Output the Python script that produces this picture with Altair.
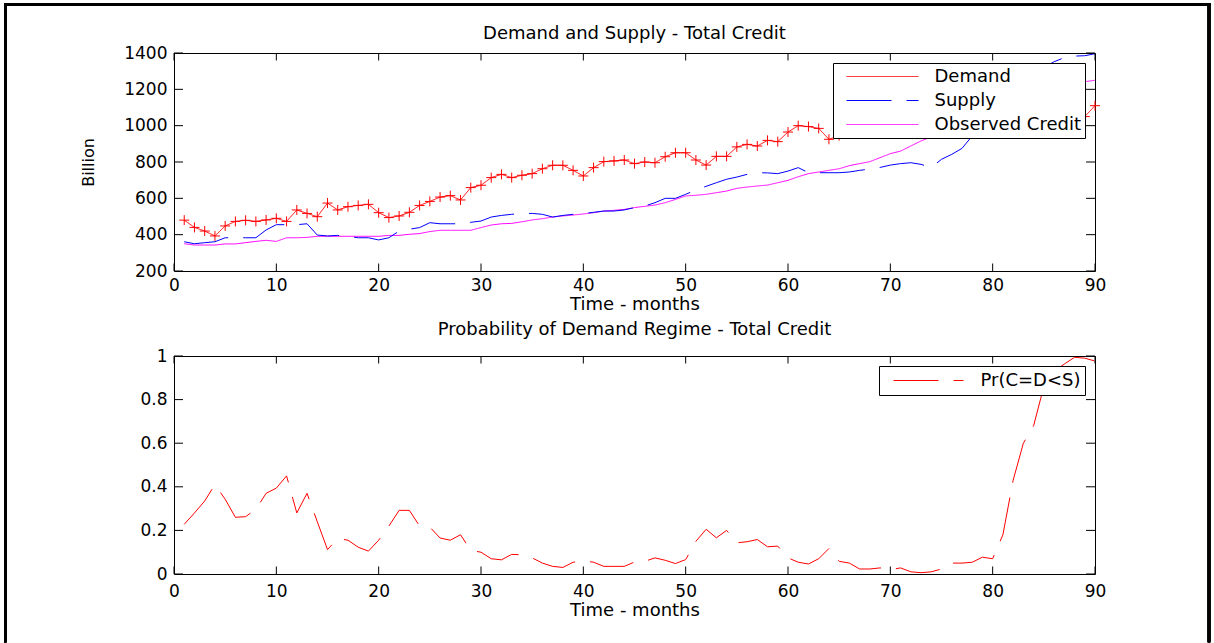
import altair as alt
import pandas as pd

# ---------------- data ----------------
months = list(range(1, 91))

demand = [480, 440, 420, 393, 448, 473, 479, 473, 481, 490,
          473, 536, 517, 499, 574, 536, 554, 561, 567, 521,
          494, 503, 523, 561, 583, 607, 615, 591, 659, 672,
          714, 732, 714, 727, 736, 763, 782, 782, 754, 723,
          769, 802, 806, 811, 791, 800, 796, 829, 851, 851,
          811, 783, 831, 831, 883, 897, 888, 919, 912, 965,
          1000, 995, 985, 925, 945, 960, 975, 985, 1000, 990,
          1010, 1025, 1020, 1005, 1030, 1045, 1060, 1050, 1070, 1085,
          1070, 1060, 1050, 1040, 1055, 1045, 1035, 1030, 1050, 1110]

supply = [361, 350, 356, 361, 383, 383, 383, 383, 426, 455,
          455, 455, 460, 398, 393, 396, 390, 383, 383, 371,
          383, 420, 430, 439, 466, 460, 460, 460, 468, 475,
          497, 506, 512, 517, 517, 512, 497, 506, 512, 516,
          523, 530, 530, 536, 549, 558, 576, 600, 600, 622,
          646, 666, 686, 705, 717, 732, 741, 740, 736, 750,
          769, 741, 741, 741, 741, 745, 754, 761, 770, 783,
          791, 796, 787, 769, 815, 842, 875, 943, 1000, 1080,
          1150, 1200, 1240, 1280, 1320, 1352, 1374, 1383, 1385, 1396]

observed = [350, 343, 343, 343, 349, 349, 356, 363, 369, 363,
            383, 383, 385, 391, 391, 391, 391, 391, 391, 391,
            396, 396, 402, 406, 417, 424, 424, 424, 424, 439,
            453, 460, 462, 471, 481, 488, 497, 503, 508, 514,
            521, 530, 534, 539, 549, 556, 563, 576, 594, 613,
            617, 622, 631, 640, 655, 662, 668, 673, 686, 699,
            719, 736, 745, 754, 763, 780, 791, 802, 824, 846,
            860, 888, 916, 938, 960, 985, 1010, 1035, 1060, 1085,
            1105, 1125, 1145, 1165, 1185, 1205, 1222, 1235, 1242, 1250]

prob = [0.228, 0.28, 0.335, 0.41, 0.343, 0.26, 0.263, 0.297, 0.37, 0.394,
        0.45, 0.28, 0.37, 0.24, 0.112, 0.163, 0.155, 0.123, 0.105, 0.155,
        0.22, 0.292, 0.292, 0.22, 0.215, 0.165, 0.155, 0.18, 0.108, 0.10,
        0.07, 0.065, 0.09, 0.088, 0.074, 0.05, 0.035, 0.03, 0.054, 0.06,
        0.054, 0.035, 0.035, 0.035, 0.055, 0.058, 0.074, 0.063, 0.048, 0.066,
        0.15, 0.205, 0.166, 0.2, 0.143, 0.148, 0.158, 0.125, 0.128, 0.074,
        0.054, 0.046, 0.07, 0.117, 0.058, 0.05, 0.023, 0.023, 0.028, 0.02,
        0.028, 0.01, 0.006, 0.01, 0.023, 0.05, 0.05, 0.054, 0.077, 0.07,
        0.18, 0.43, 0.6, 0.68, 0.86, 0.93, 0.963, 0.994, 0.99, 0.977]

series_names = ["Demand", "Supply", "Observed Credit"]
series_colors = ["#ff0000", "#0000ff", "#ff00ff"]
prob_name = "Pr(C=D<S)"

x_ticks = [0, 10, 20, 30, 40, 50, 60, 70, 80, 90]
y_ticks_top = [200, 400, 600, 800, 1000, 1200, 1400]
y_ticks_bottom = [0, 0.2, 0.4, 0.6, 0.8, 1]

top_title = "Demand and Supply - Total Credit"
bottom_title = "Probability of Demand Regime - Total Credit"
x_title = "Time - months"
y_title = "Billion"

# ---------------- layout constants ----------------
W, H = 921, 218
FONT = "DejaVu Sans"
FS_TICK = 17
FS_TEXT = 18
FS_YTITLE = 16
TICK_X = 7.5
TICK_Y = 9
DASH = [45, 15]
PLUS = "M-1,0L1,0M0,-1L0,1"

top_df = pd.DataFrame({
    "month": months * 3,
    "value": demand + supply + observed,
    "series": [n for n in series_names for _ in months],
})
prob_df = pd.DataFrame({"month": months, "value": prob, "series": prob_name})
xt_df = pd.DataFrame({"month": x_ticks})
yt_top_df = pd.DataFrame({"value": y_ticks_top})
yt_bot_df = pd.DataFrame({"value": y_ticks_bottom})

xs = alt.Scale(domain=[0, 90], nice=False, zero=False)
ys_top = alt.Scale(domain=[200, 1400], nice=False, zero=False)
ys_bot = alt.Scale(domain=[0, 1], nice=False, zero=False)


def label_x_axis(pad):
    return alt.Axis(orient="bottom", values=x_ticks, ticks=False, tickSize=0,
                    domain=False, grid=False, labelPadding=pad, labelFlush=False,
                    title=x_title, titlePadding=2, titleFontSize=FS_TEXT)


def label_y_axis(values, fmt, title):
    kw = dict(orient="left", values=values, format=fmt, ticks=False, tickSize=0,
              domain=False, grid=False, labelPadding=7, labelFlush=False)
    if title:
        kw["title"] = title
        kw["titlePadding"] = 27
        kw["titleFontSize"] = FS_YTITLE
    else:
        kw["title"] = None
    return alt.Axis(**kw)


def inner_ticks(yscale, ydf):
    """Inward-pointing tick marks on all four sides, placed through the scales."""
    kw = dict(color="black", strokeWidth=1)
    xt = alt.Chart(xt_df)
    yt = alt.Chart(ydf)
    xb = xt.mark_rule(**kw).encode(x=alt.X("month:Q", scale=xs, axis=None),
                                   y=alt.value(H), y2=alt.value(H - TICK_X))
    xtp = xt.mark_rule(**kw).encode(x=alt.X("month:Q", scale=xs, axis=None),
                                    y=alt.value(0), y2=alt.value(TICK_X))
    yl = yt.mark_rule(**kw).encode(y=alt.Y("value:Q", scale=yscale, axis=None),
                                   x=alt.value(0), x2=alt.value(TICK_Y))
    yr = yt.mark_rule(**kw).encode(y=alt.Y("value:Q", scale=yscale, axis=None),
                                   x=alt.value(W), x2=alt.value(W - TICK_Y))
    return [xb, xtp, yl, yr]


legend_top = alt.Legend(title=None, orient="top-right", offset=10, fillColor="white",
                        strokeColor="black", padding=4, symbolType="stroke",
                        symbolSize=5184, symbolStrokeWidth=1, symbolOffset=9,
                        labelOffset=15.5, clipHeight=19, rowPadding=5,
                        labelFont=FONT, labelFontSize=FS_TEXT, labelColor="black")

color_top = alt.Color("series:N", scale=alt.Scale(domain=series_names, range=series_colors),
                      legend=legend_top)
dash_top = alt.StrokeDash("series:N",
                          scale=alt.Scale(domain=series_names, range=[[1, 0], DASH, [1, 0]]),
                          legend=legend_top)

base = alt.Chart(top_df)
obs_layer = base.transform_filter(alt.datum.series == "Observed Credit").mark_line(strokeWidth=1).encode(
    x=alt.X("month:Q", scale=xs, axis=label_x_axis(6)),
    y=alt.Y("value:Q", scale=ys_top, axis=label_y_axis(y_ticks_top, "d", y_title)),
    color=color_top, strokeDash=dash_top,
)
sup_layer = base.transform_filter(alt.datum.series == "Supply").mark_line(strokeWidth=1).encode(
    x=alt.X("month:Q", scale=xs, axis=None),
    y=alt.Y("value:Q", scale=ys_top, axis=None),
    color=color_top, strokeDash=dash_top,
)
dem_layer = base.transform_filter(alt.datum.series == "Demand").mark_line(strokeWidth=1).encode(
    x=alt.X("month:Q", scale=xs, axis=None),
    y=alt.Y("value:Q", scale=ys_top, axis=None),
    color=color_top, strokeDash=dash_top,
)
dem_pts = base.transform_filter(alt.datum.series == "Demand").mark_point(
    shape=PLUS, size=100, filled=False, strokeWidth=1, color="#ff0000", opacity=1
).encode(
    x=alt.X("month:Q", scale=xs, axis=None),
    y=alt.Y("value:Q", scale=ys_top, axis=None),
)
# outer figure frame (decoration)
frame_kw = dict(color="black", strokeWidth=2.5, strokeCap="square")
frame_left = alt.Chart(xt_df).mark_rule(**frame_kw).encode(
    x=alt.value(-168.75), y=alt.value(-48.75), y2=alt.value(588))
frame_right = alt.Chart(xt_df).mark_rule(**frame_kw).encode(
    x=alt.value(1035), y=alt.value(-48.75), y2=alt.value(588))
frame_top = alt.Chart(xt_df).mark_rule(**frame_kw).encode(
    x=alt.value(-168.75), x2=alt.value(1035), y=alt.value(-48.75))

top = alt.layer(obs_layer, sup_layer, dem_layer, dem_pts, *inner_ticks(ys_top, yt_top_df),
                frame_left, frame_right, frame_top).resolve_axis(
    x="independent", y="independent"
).properties(
    width=W, height=H,
    title=alt.TitleParams(top_title, offset=-54.5, baseline="alphabetic",
                          anchor="middle", font=FONT, fontSize=FS_TEXT,
                          fontWeight="normal", color="black"),
)

legend_bot = alt.Legend(title=None, orient="top-right", offset=10, fillColor="white",
                        strokeColor="black", padding=4, symbolType="stroke",
                        symbolSize=4900, symbolStrokeWidth=1, symbolOffset=10,
                        labelOffset=16.5, clipHeight=21, symbolDash=DASH,
                        labelFont=FONT, labelFontSize=FS_TEXT, labelColor="black")
pbase = alt.Chart(prob_df)
p_line = pbase.mark_line(strokeWidth=1, strokeDash=DASH).encode(
    x=alt.X("month:Q", scale=xs, axis=label_x_axis(9)),
    y=alt.Y("value:Q", scale=ys_bot, axis=label_y_axis(y_ticks_bottom, "~g", None)),
    color=alt.Color("series:N", scale=alt.Scale(domain=[prob_name], range=["#ff0000"]),
                    legend=legend_bot),
)
bottom = alt.layer(p_line, *inner_ticks(ys_bot, yt_bot_df)).resolve_axis(
    x="independent", y="independent"
).properties(
    width=W, height=H,
    title=alt.TitleParams(bottom_title, offset=-5.5, baseline="alphabetic",
                          anchor="middle", font=FONT, fontSize=FS_TEXT,
                          fontWeight="normal", color="black"),
)

chart = alt.vconcat(top, bottom, spacing=85, bounds="flush").resolve_scale(
    color="independent", strokeDash="independent"
).properties(
    padding={"left": 2, "top": 1, "right": 0, "bottom": 0},
    background="white",
).configure_view(
    stroke="black", strokeWidth=1
).configure_axis(
    labelFont=FONT, labelFontSize=FS_TICK, labelColor="black",
    titleFont=FONT, titleFontSize=FS_TEXT, titleFontWeight="normal", titleColor="black",
).configure_legend(
    labelFont=FONT, labelFontSize=FS_TEXT, labelColor="black"
)

chart.save("out.html", embed_options={"renderer": "svg", "actions": False})
